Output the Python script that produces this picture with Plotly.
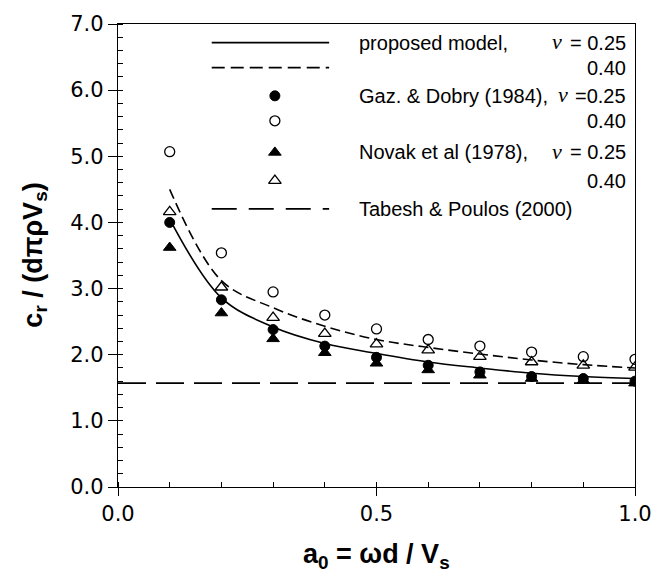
import plotly.graph_objects as go

# ---------------- data ----------------
a0 = [0.1, 0.2, 0.3, 0.4, 0.5, 0.6, 0.7, 0.8, 0.9, 1.0]

model_025 = [4.05, 2.86, 2.42, 2.17, 2.02, 1.89, 1.80, 1.72, 1.67, 1.64]
model_040 = [4.50, 3.12, 2.71, 2.43, 2.23, 2.11, 2.01, 1.92, 1.85, 1.80]

gaz_025 = [4.00, 2.83, 2.38, 2.13, 1.96, 1.84, 1.74, 1.67, 1.64, 1.60]
gaz_040 = [5.07, 3.54, 2.95, 2.60, 2.39, 2.23, 2.13, 2.04, 1.97, 1.93]

novak_025 = [3.62, 2.63, 2.24, 2.03, 1.87, 1.77, 1.69, 1.64, 1.61, 1.57]
novak_040 = [4.16, 3.02, 2.56, 2.32, 2.16, 2.07, 1.97, 1.89, 1.84, 1.81]

tabesh_x = [0.0, 1.0]
tabesh_y = [1.57, 1.57]

x_ticks = [0.0, 0.5, 1.0]
y_ticks = [0.0, 1.0, 2.0, 3.0, 4.0, 5.0, 6.0, 7.0]

# ---------------- layout constants (pixels) ----------------
W, H = 664, 586
L, R, T, B = 118, 642, 23, 487
XR = (0.0, 1.0)
YR = (0.0, 7.0)


def px2x(px):
    return XR[0] + (px - L) / (R - L) * (XR[1] - XR[0])


def py2y(py):
    return YR[0] + (B - py) / (B - T) * (YR[1] - YR[0])


def pxp(px):
    return (px - L) / (R - L)


def pyp(py):
    return (B - py) / (B - T)


FONT = "Liberation Sans, Arial, sans-serif"

fig = go.Figure()

line_w = 1.6
fig.add_trace(go.Scatter(x=a0, y=model_025, mode="lines", line=dict(color="black", width=line_w, shape="spline"),
                         showlegend=False))
fig.add_trace(go.Scatter(x=a0, y=model_040, mode="lines",
                         line=dict(color="black", width=line_w, dash="10px,5px", shape="spline"), showlegend=False))
fig.add_trace(go.Scatter(x=tabesh_x, y=tabesh_y, mode="lines",
                         line=dict(color="black", width=line_w, dash="28px,10px"), showlegend=False))

mk_circle_f = dict(symbol="circle", size=10, color="black", line=dict(color="black", width=1))
mk_circle_o = dict(symbol="circle-open", size=10, color="black", line=dict(color="black", width=1.3))
mk_tri_f = dict(symbol="triangle-up", size=11, color="black", line=dict(color="black", width=1))
mk_tri_o = dict(symbol="triangle-up-open", size=11, color="black", line=dict(color="black", width=1.3))

fig.add_trace(go.Scatter(x=a0, y=gaz_040, mode="markers", marker=mk_circle_o, showlegend=False))
fig.add_trace(go.Scatter(x=a0, y=novak_040, mode="markers", marker=mk_tri_o, showlegend=False))
fig.add_trace(go.Scatter(x=a0, y=gaz_025, mode="markers", marker=mk_circle_f, showlegend=False))
fig.add_trace(go.Scatter(x=a0, y=novak_025, mode="markers", marker=mk_tri_f, showlegend=False))

# ---------------- hand-drawn legend ----------------
row_py = [41.7, 66.7, 95, 120, 151.7, 180, 208.3]
ls_x0, ls_x1, mk_px = 213, 332, 277
txt_left, txt_right = 360, 635
leg_font = dict(family=FONT, size=20, color="black")
nu_font = dict(family="Liberation Serif, Times New Roman, serif", size=22, color="black", style="italic")

fig.add_trace(go.Scatter(x=[px2x(ls_x0), px2x(ls_x1)], y=[py2y(row_py[0])] * 2, mode="lines",
                         line=dict(color="black", width=line_w), showlegend=False))
fig.add_trace(go.Scatter(x=[px2x(ls_x0), px2x(ls_x1)], y=[py2y(row_py[1])] * 2, mode="lines",
                         line=dict(color="black", width=line_w, dash="13px,6px"), showlegend=False))
fig.add_trace(go.Scatter(x=[px2x(ls_x0), px2x(ls_x1)], y=[py2y(row_py[6])] * 2, mode="lines",
                         line=dict(color="black", width=line_w, dash="25px,12px"), showlegend=False))
for r, mk in zip([2, 3, 4, 5], [mk_circle_f, mk_circle_o, mk_tri_f, mk_tri_o]):
    fig.add_trace(go.Scatter(x=[px2x(mk_px)], y=[py2y(row_py[r])], mode="markers", marker=mk, showlegend=False))

left_texts = {0: "proposed model,", 2: "Gaz. & Dobry (1984),", 4: "Novak et al (1978),",
              6: "Tabesh & Poulos (2000)"}
right_texts = {0: "= 0.25", 1: "0.40", 2: "=0.25", 3: "0.40", 4: "= 0.25", 5: "0.40"}
nu_pos = {0: 570, 2: 576, 4: 570}

annotations = []
for r, t in left_texts.items():
    annotations.append(dict(x=pxp(txt_left), y=pyp(row_py[r]), xref="paper", yref="paper",
                            text=t, showarrow=False, xanchor="left", yanchor="middle", font=leg_font))
for r, t in right_texts.items():
    annotations.append(dict(x=pxp(txt_right), y=pyp(row_py[r]), xref="paper", yref="paper",
                            text=t, showarrow=False, xanchor="right", yanchor="middle", font=leg_font))
for r, p in nu_pos.items():
    annotations.append(dict(x=pxp(p), y=pyp(row_py[r] - 1), xref="paper", yref="paper",
                            text="ν", showarrow=False, xanchor="right", yanchor="middle", font=nu_font))

# axis titles
title_font = dict(family=FONT, size=27, color="black")
annotations.append(dict(x=pxp(380), y=pyp(556), xref="paper", yref="paper",
                        text="<b>a<sub>0</sub> = ωd / V<sub>s</sub></b>", showarrow=False,
                        xanchor="center", yanchor="middle", font=title_font))
annotations.append(dict(x=pxp(33), y=pyp(255), xref="paper", yref="paper",
                        text="<b>c<sub>r</sub> / (dπρV<sub>s</sub>)</b>", showarrow=False, textangle=-90,
                        xanchor="center", yanchor="middle", font=title_font))

tick_font = dict(family="DejaVu Sans, sans-serif", size=21, color="black")
fig.update_layout(
    width=W, height=H,
    margin=dict(l=L, r=W - R, t=T, b=H - B, pad=0),
    paper_bgcolor="white", plot_bgcolor="white",
    annotations=annotations,
    xaxis=dict(range=list(XR), tickvals=x_ticks, ticktext=[f"{v:.1f}" for v in x_ticks],
               showgrid=False, zeroline=False, showline=True, linecolor="black", linewidth=1.3,
               mirror=True, ticks="outside", ticklen=8, tickwidth=1.3, tickcolor="black",
               tickfont=tick_font,
               minor=dict(dtick=0.1, ticks="inside", ticklen=5, tickwidth=1.2, tickcolor="black", showgrid=False)),
    yaxis=dict(range=list(YR), tickvals=y_ticks, ticktext=[f"{v:.1f}" for v in y_ticks],
               showgrid=False, zeroline=False, showline=True, linecolor="black", linewidth=1.3,
               mirror=True, ticks="outside", ticklen=9, tickwidth=1.3, tickcolor="black",
               tickfont=tick_font,
               minor=dict(dtick=0.2, ticks="inside", ticklen=5, tickwidth=1.2, tickcolor="black", showgrid=False)),
)

fig.write_html("out.html")
